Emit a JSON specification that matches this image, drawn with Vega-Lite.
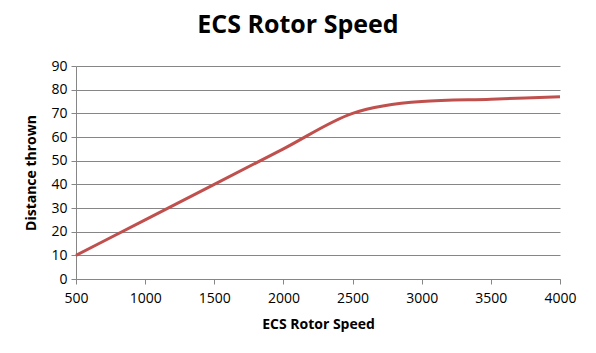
{
  "$schema": "https://vega.github.io/schema/vega-lite/v6.json",
  "width": 484,
  "height": 213,
  "autosize": "none",
  "padding": {"left": 76, "top": 66, "right": 36, "bottom": 74},
  "background": "white",
  "title": {
    "text": "ECS Rotor Speed",
    "font": "Open Sans",
    "fontSize": 25,
    "fontWeight": "bold",
    "color": "#000000",
    "anchor": "middle",
    "offset": 21,
    "dx": -20
  },
  "config": {
    "view": {"stroke": null},
    "axis": {
      "labelFont": "Open Sans",
      "labelFontSize": 14,
      "labelColor": "#000000",
      "titleFont": "Open Sans",
      "titleFontSize": 14,
      "titleFontWeight": "bold",
      "titleColor": "#000000",
      "domainColor": "#868686",
      "tickColor": "#868686",
      "gridColor": "#868686",
      "tickSize": 5
    }
  },
  "data": {
    "values": [
      {"speed": 500, "distance": 10},
      {"speed": 1000, "distance": 25},
      {"speed": 1500, "distance": 40},
      {"speed": 2000, "distance": 55},
      {"speed": 2500, "distance": 70},
      {"speed": 3000, "distance": 75},
      {"speed": 3500, "distance": 76},
      {"speed": 4000, "distance": 77}
    ]
  },
  "mark": {"type": "line", "interpolate": "monotone", "color": "#C0504D", "strokeWidth": 3},
  "encoding": {
    "x": {
      "field": "speed",
      "type": "quantitative",
      "scale": {"domain": [500, 4000], "nice": false, "zero": false},
      "axis": {"values": [500, 1000, 1500, 2000, 2500, 3000, 3500, 4000], "grid": false, "title": "ECS Rotor Speed", "labelFlush": false, "labelPadding": 7, "titlePadding": 12, "format": "d"}
    },
    "y": {
      "field": "distance",
      "type": "quantitative",
      "scale": {"domain": [0, 90], "nice": false},
      "axis": {"values": [0, 10, 20, 30, 40, 50, 60, 70, 80, 90], "grid": true, "title": "Distance thrown", "labelPadding": 4, "titlePadding": 12}
    }
  }
}
